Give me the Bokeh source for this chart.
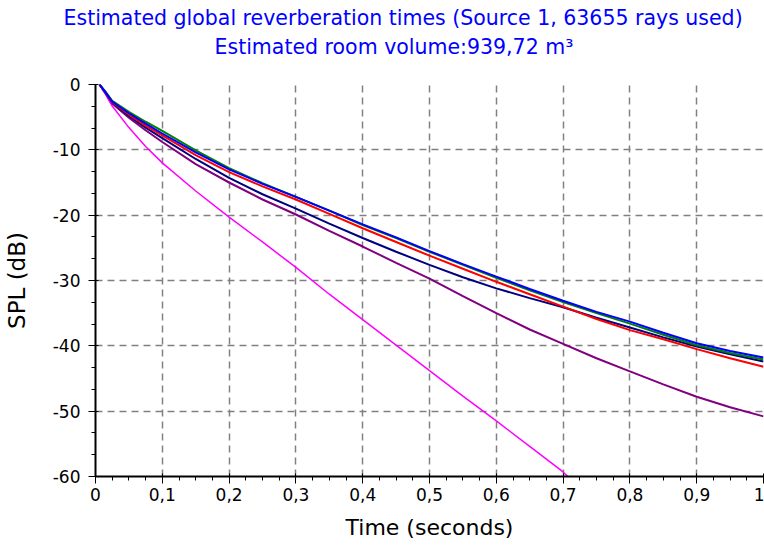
from bokeh.plotting import figure
from bokeh.models import Range1d, FixedTicker, CustomJSTickFormatter, Title
from bokeh.embed import file_html
from bokeh.resources import INLINE

title_line1 = "Estimated global reverberation times (Source 1, 63655 rays used)"
title_line2 = "Estimated room volume:939,72 m³"
x_label = "Time (seconds)"
y_label = "SPL (dB)"

x_ticks = [0, 0.1, 0.2, 0.3, 0.4, 0.5, 0.6, 0.7, 0.8, 0.9, 1.0]
y_ticks = [-60, -50, -40, -30, -20, -10, 0]

t = [0.006, 0.015, 0.025, 0.05, 0.075, 0.1, 0.15, 0.2, 0.25, 0.3, 0.35, 0.4,
     0.45, 0.5, 0.55, 0.6, 0.65, 0.7, 0.75, 0.8, 0.85, 0.9, 0.95, 1.0]
spl_blue = [0, -1.2, -2.6, -4.4, -6.0, -7.5, -10.4, -13.0, -15.2, -17.2, -19.3, -21.4,
            -23.4, -25.5, -27.5, -29.4, -31.3, -33.1, -34.8, -36.3, -38.0, -39.6, -40.8, -41.8]
spl_green = [0, -1.1, -2.5, -4.2, -5.7, -7.1, -10.1, -12.8, -15.1, -17.2, -19.3, -21.5,
             -23.5, -25.6, -27.6, -29.6, -31.5, -33.3, -35.0, -36.6, -38.3, -39.9, -41.1, -42.1]
spl_red = [0, -1.2, -2.7, -4.6, -6.3, -7.8, -10.8, -13.4, -15.6, -17.6, -19.8, -22.0,
           -24.1, -26.2, -28.2, -30.2, -32.1, -34.0, -35.9, -37.6, -39.0, -40.5, -41.9, -43.2]
spl_navy = [0, -1.3, -2.8, -4.8, -6.6, -8.2, -11.4, -14.3, -16.8, -19.0, -21.3, -23.5,
            -25.6, -27.6, -29.5, -31.2, -32.7, -34.1, -35.7, -37.2, -38.7, -40.1, -41.3, -42.4]
spl_purple = [0, -1.3, -2.9, -5.1, -7.0, -8.8, -12.2, -15.0, -17.6, -19.9, -22.4, -24.8,
              -27.3, -29.7, -32.4, -35.0, -37.5, -39.7, -41.9, -43.9, -45.9, -47.8, -49.4, -50.8]

t_magenta = [0.006, 0.015, 0.025, 0.05, 0.075, 0.1, 0.15, 0.2, 0.25, 0.3, 0.35, 0.4,
             0.45, 0.5, 0.55, 0.6, 0.65, 0.7, 0.707]
spl_magenta = [0, -1.5, -3.3, -6.6, -9.5, -12.0, -16.3, -20.3, -24.1, -28.0, -32.1, -36.0,
               -39.9, -43.8, -47.7, -51.5, -55.4, -59.3, -60.0]

FONT = "DejaVu Sans"

p = figure(width=764, height=546, output_backend="svg", toolbar_location=None,
           x_range=Range1d(0, 1), y_range=Range1d(-60, 0),
           min_border_left=94, min_border_right=1, min_border_top=84, min_border_bottom=70)
p.outline_line_color = None
p.background_fill_color = "white"
p.border_fill_color = "white"

# titles (first added sits closest to the frame); a blank spacer first
p.add_layout(Title(text=" ", text_font_size="2px", standoff=22), "above")
p.add_layout(Title(text=title_line2, align="left", text_color="#0000FF",
                   text_font=FONT, text_font_size="20.5px", text_font_style="normal",
                   standoff=0, offset=119), "above")
p.add_layout(Title(text=title_line1, align="left", text_color="#0000FF",
                   text_font=FONT, text_font_size="20.5px", text_font_style="normal",
                   standoff=5, offset=-32), "above")

# axes
p.xaxis.ticker = FixedTicker(ticks=x_ticks,
                             minor_ticks=[i * 0.025 for i in range(41)])
p.yaxis.ticker = FixedTicker(ticks=y_ticks,
                             minor_ticks=[-60 + i * 10 / 3 for i in range(19)])
fmt = CustomJSTickFormatter(code="""
    if (Math.abs(tick) < 1e-9) return '0';
    if (Math.abs(tick - 1) < 1e-9) return '1';
    return tick.toFixed(1).replace('.', ',');
""")
p.xaxis.formatter = fmt
p.yaxis.formatter = CustomJSTickFormatter(code="return Math.round(tick).toString();")

for ax in (p.xaxis, p.yaxis):
    ax.axis_line_color = "black"
    ax.axis_line_width = 2
    ax.major_tick_line_color = "black"
    ax.minor_tick_line_color = "black"
    ax.major_tick_line_width = 1
    ax.minor_tick_line_width = 1
    ax.major_tick_in = 3
    ax.major_tick_out = 7
    ax.minor_tick_in = 0
    ax.minor_tick_out = 4
    ax.major_label_text_font = FONT
    ax.major_label_text_font_size = "17px"
    ax.major_label_text_color = "black"
    ax.axis_label_text_font = FONT
    ax.axis_label_text_font_style = "normal"
    ax.axis_label_text_color = "black"

p.xaxis.axis_label = x_label
p.yaxis.axis_label = y_label
p.xaxis.axis_label_text_font_size = "22px"
p.yaxis.axis_label_text_font_size = "23px"
p.xaxis.major_label_standoff = 4
p.yaxis.major_label_standoff = 8
p.xaxis.axis_label_standoff = 11
p.yaxis.axis_label_standoff = 20

for g in (p.xgrid, p.ygrid):
    g.grid_line_color = "#808080"
    g.grid_line_width = 1.5
    g.grid_line_dash = "7 5"

# curves
p.line(t, spl_purple, line_color="#800080", line_width=2)
p.line(t_magenta, spl_magenta, line_color="#FF00FF", line_width=1.5)
p.line(t, spl_navy, line_color="#000080", line_width=2)
p.line(t, spl_red, line_color="#FF0000", line_width=2)
p.line(t, spl_green, line_color="#008000", line_width=2)
p.line(t, spl_blue, line_color="#0000FF", line_width=2)

open("out.html", "w").write(file_html(p, INLINE))
